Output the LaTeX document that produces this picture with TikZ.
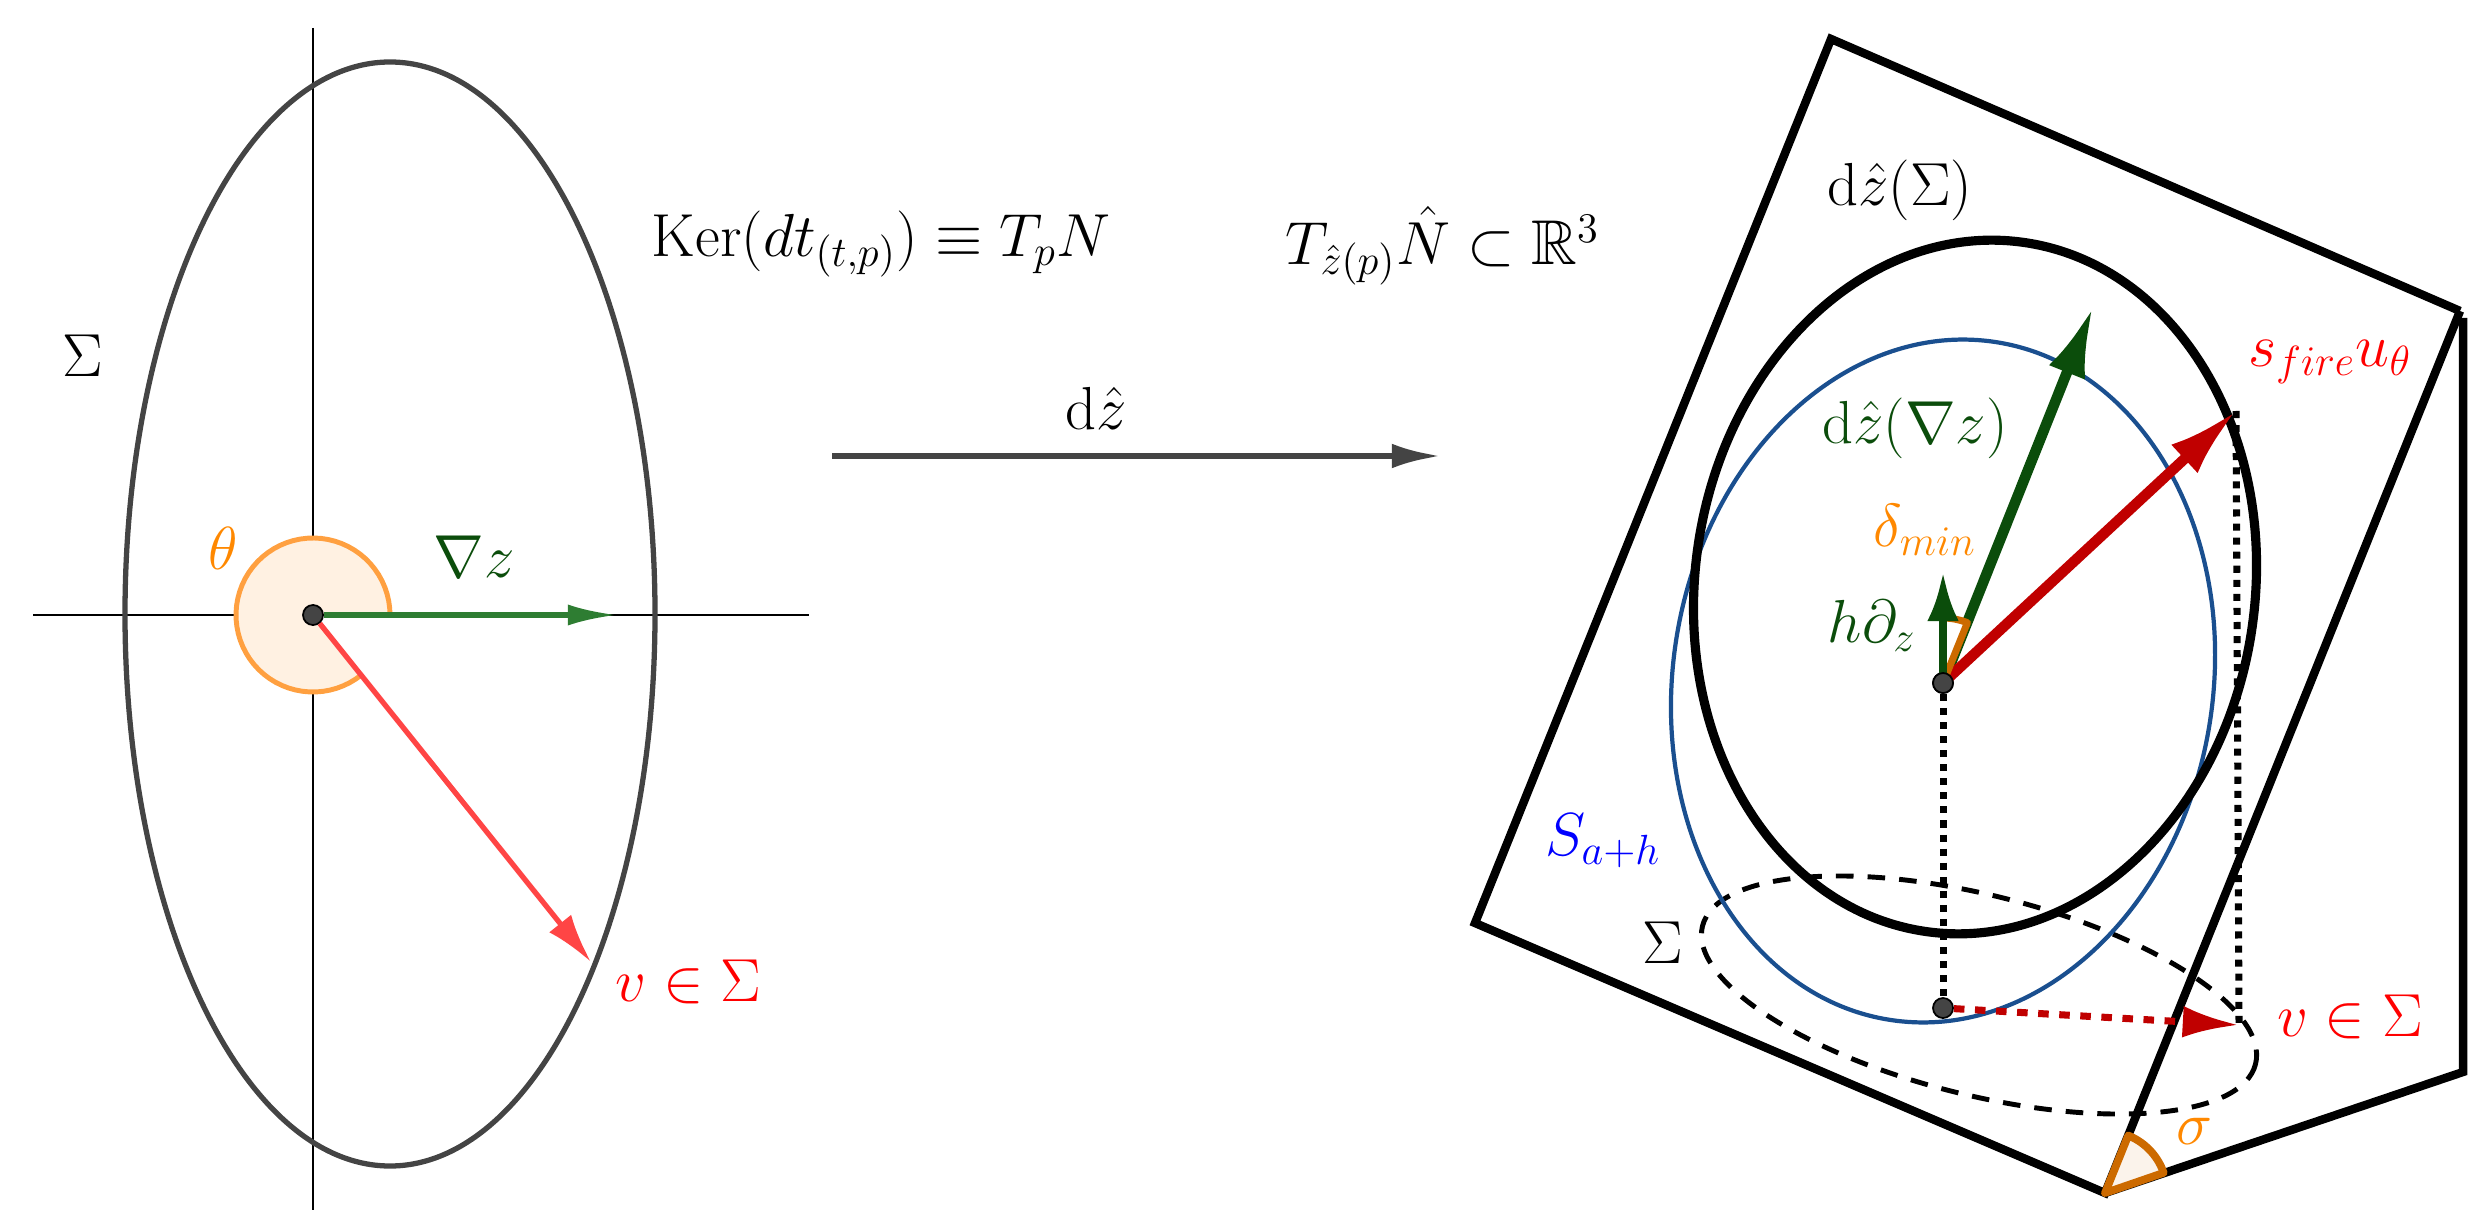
\documentclass[tikz,border=0pt]{standalone}
\usepackage{amsmath,amssymb}
\usetikzlibrary{arrows.meta}
\definecolor{lgray}{HTML}{444444}
\definecolor{lorange}{HTML}{FFA040}
\definecolor{lred}{HTML}{FF4545}
\definecolor{lgreen}{HTML}{2E7D32}
\definecolor{dgreen}{HTML}{0B4D0B}
\definecolor{dred}{HTML}{C00000}
\definecolor{dorange}{HTML}{CC6A00}
\definecolor{torange}{HTML}{FF8800}
\definecolor{eblue}{HTML}{1A4F8F}
\begin{document}
\begin{tikzpicture}[x=0.01cm,y=-0.01cm,
  lbl/.style={font=\fontsize{18}{21}\selectfont,inner sep=0pt},
  frame/.style={line width=2.4pt,line join=miter},
  dot/.style={circle,fill=lgray,draw=black,line width=0.5pt,inner sep=0pt,minimum size=0.2cm}]
\useasboundingbox (0,0) rectangle (2492,1228);
% ---------------- left ----------------
\draw[line width=0.8pt] (313,28) -- (313,1210);
\draw[line width=0.8pt] (33,615) -- (809,615);
\draw[lgray,line width=1.5pt] (390,614) ellipse [x radius=265,y radius=552];
\fill[lorange!15] (313,615) -- plot[domain=0:309,samples=60]({313+77*cos(\x)},{615-77*sin(\x)}) -- cycle;
\draw[lorange,line width=1.4pt] plot[domain=0:309,samples=60]({313+77*cos(\x)},{615-77*sin(\x)});
\node[dot] (o) at (313,615) {};
\coordinate (gz) at (617,615);
\coordinate (vv) at (591,962);
\draw[lgreen,line width=1.5pt,-{Latex[length=14pt,width=6pt]}] (o) -- (gz);
\draw[lred,line width=1.5pt,-{Latex[length=14pt,width=8pt]}] (o) -- (vv);
\node[lbl,text=torange] (th) at (223,548) {$\theta$};
\node[lbl,text=dgreen] (nz) at (474,557) {$\nabla z$};
\node[lbl] (sg) at (83,356) {$\Sigma$};
\node[lbl,text=red,anchor=west] (vs) at (615,982) {$v\in\Sigma$};
% ---------------- middle ----------------
\node[lbl,anchor=west] (ker) at (651,244) {$\mathrm{Ker}(dt_{(t,p)})\equiv T_pN$};
\node[lbl,anchor=west] (tn) at (1285,246) {$T_{\hat z(p)}\hat N\subset\mathbb{R}^3$};
\node[lbl] (dz) at (1096,408) {$\mathrm{d}\hat z$};
\coordinate (a1) at (832,456);
\coordinate (a2) at (1441,456);
\draw[lgray,line width=1.8pt,-{Latex[length=14pt,width=7pt]}] (a1) -- (a2);
% ---------------- right ----------------
\coordinate (p1) at (1831,39);
\coordinate (p2) at (2460,311);
\coordinate (p3) at (2105,1193);
\coordinate (p4) at (1475,923);
\coordinate (q1) at (2463,318);
\coordinate (q2) at (2463,1072);
\draw[frame] (p2) -- (p1) -- (p4) -- (p3) -- (p2);
\draw[frame] (q1) -- (q2) -- (p3);
\draw[black,line width=1.4pt,dashed,dash pattern=on 5pt off 4pt,rotate around={-14:(1979,995)}] (1979,995) ellipse [x radius=285,y radius=100];
\draw[eblue,line width=1.2pt,rotate around={-9:(1943,681)}] (1943,681) ellipse [x radius=270,y radius=343];
\draw[black,line width=2.6pt,rotate around={-8:(1975,587)}] (1975,587) ellipse [x radius=280,y radius=348];
\node[dot] (c1) at (1943,683) {};
\node[dot] (c2) at (1943,1008) {};
\coordinate (sf) at (2236,411);
\coordinate (sb) at (2239,1025);
\coordinate (gt) at (2093,307);
\coordinate (ht) at (1943,572);
\draw[line width=2pt,dotted] (c1) -- (c2);
\draw[line width=2pt,dotted] (sf) -- (sb);
\draw[dred,line width=2pt,dashed,-{Latex[length=16pt,width=9pt]}] (c2) -- (sb);
\draw[dgreen,line width=3pt,-{Latex[length=20pt,width=11pt]}] (c1.center) -- (gt);
\draw[dred,line width=3pt,-{Latex[length=20pt,width=11pt]}] (c1.center) -- (sf);
\fill[white] (1943,683) -- plot[domain=68:90,samples=10]({1943+65*cos(\x)},{683-65*sin(\x)}) -- cycle;
\draw[dorange,line width=2pt,line join=round] (1943,683) -- plot[domain=68:90,samples=10]({1943+65*cos(\x)},{683-65*sin(\x)}) -- cycle;
\draw[dgreen,line width=2.2pt,-{Latex[length=14pt,width=9pt]}] (c1.center) -- (ht);
\node[dot] at (1943,683) {};
\fill[dorange!8] (p3) -- plot[domain=19:68,samples=20]({2105+62*cos(\x)},{1193-62*sin(\x)}) -- cycle;
\draw[dorange,line width=2.2pt,line join=round] (p3) -- plot[domain=19:68,samples=20]({2105+62*cos(\x)},{1193-62*sin(\x)}) -- cycle;
\node[lbl] (ds) at (1900,190) {$\mathrm{d}\hat z(\Sigma)$};
\node[lbl,text=red] (su) at (2330,362) {$s_{fire}u_\theta$};
\node[lbl,text=dgreen] (dn) at (1915,428) {$\mathrm{d}\hat z(\nabla z)$};
\node[lbl,text=torange] (dm) at (1925,530) {$\delta_{min}$};
\node[lbl,text=dgreen] (hd) at (1872,626) {$h\partial_z$};
\node[lbl,text=blue] (sa) at (1603,841) {$S_{a+h}$};
\node[lbl] (s2) at (1663,943) {$\Sigma$};
\node[lbl,text=red] (v2) at (2350,1017) {$v\in\Sigma$};
\node[lbl,text=torange] (sgm) at (2194,1131) {$\sigma$};
\end{tikzpicture}
\end{document}
